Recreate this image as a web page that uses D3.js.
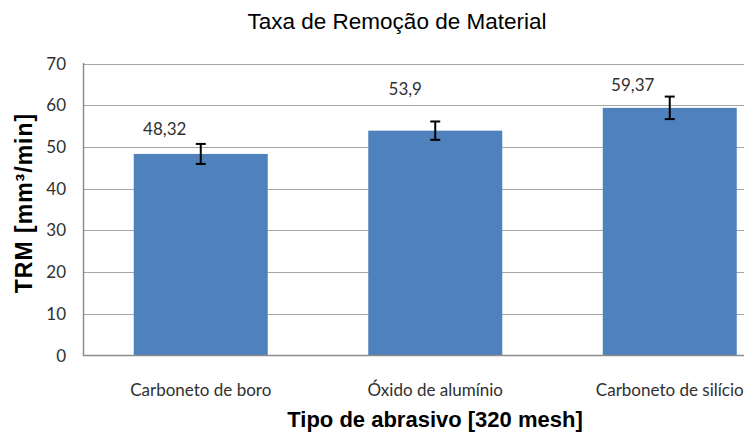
<!DOCTYPE html>
<html><head><meta charset="utf-8">
<script src="https://cdn.jsdelivr.net/npm/d3@7"></script>
<style>body{margin:0;background:#fff}svg{display:block}</style>
</head><body>
<svg id="c" width="744" height="443"></svg>
<script>
const categories = ["Carboneto de boro", "Óxido de alumínio", "Carboneto de silício"];
const values = [48.32, 53.9, 59.37];
const errors = [2.4, 2.2, 2.7];
const valueLabels = ["48,32", "53,9", "59,37"];
const yTicks = [0, 10, 20, 30, 40, 50, 60, 70];

// manual label placement (Excel-style), offsets from bar centre / bar top
const labelDx = [-36, -30, -37];
const labelDy = [-19, -36, -17];

const svg = d3.select("#c");
const x = d3.scaleBand().domain(categories).range([83.5, 787]).paddingInner(0.4286).paddingOuter(0.2143);
const y = d3.scaleLinear().domain([0, 70]).range([355.5, 63.5]);

// gridlines
svg.append("g").selectAll("line").data(yTicks.filter(d => d > 0)).join("line")
  .attr("x1", 83.5).attr("x2", 787)
  .attr("y1", d => Math.round(y(d)) + 0.5).attr("y2", d => Math.round(y(d)) + 0.5)
  .attr("stroke", "#a6a6a6").attr("stroke-width", 1);

// bars
svg.append("g").selectAll("rect").data(values).join("rect")
  .attr("x", (d, i) => x(categories[i]))
  .attr("width", x.bandwidth())
  .attr("y", d => y(d))
  .attr("height", d => y(0) - y(d))
  .attr("fill", "#4f81bd");

// axes lines
svg.append("line").attr("x1", 83.5).attr("x2", 83.5).attr("y1", 63).attr("y2", 356)
  .attr("stroke", "#8c8c8c").attr("stroke-width", 1.5);
svg.append("line").attr("x1", 83).attr("x2", 787).attr("y1", 355.5).attr("y2", 355.5)
  .attr("stroke", "#8c8c8c").attr("stroke-width", 1.5);

// y tick labels
svg.append("g").selectAll("text").data(yTicks).join("text")
  .attr("x", 66).attr("y", d => y(d) + 6)
  .attr("text-anchor", "end")
  .attr("font-family", "Lato").attr("font-size", 17).attr("fill", "#303030")
  .text(d => d);

// x category labels
svg.append("g").selectAll("text").data(categories).join("text")
  .attr("x", d => x(d) + x.bandwidth() / 2).attr("y", 396)
  .attr("text-anchor", "middle")
  .attr("font-family", "Lato").attr("font-size", 17).attr("fill", "#303030")
  .text(d => d);

// error bars
const eb = svg.append("g").attr("stroke", "#000").attr("stroke-width", 2);
values.forEach((v, i) => {
  const cx = x(categories[i]) + x.bandwidth() / 2;
  eb.append("line").attr("x1", cx).attr("x2", cx).attr("y1", y(v + errors[i])).attr("y2", y(v - errors[i]));
  eb.append("line").attr("x1", cx - 5).attr("x2", cx + 5).attr("y1", y(v + errors[i])).attr("y2", y(v + errors[i]));
  eb.append("line").attr("x1", cx - 5).attr("x2", cx + 5).attr("y1", y(v - errors[i])).attr("y2", y(v - errors[i]));
});

// value labels
svg.append("g").selectAll("text").data(values).join("text")
  .attr("x", (d, i) => x(categories[i]) + x.bandwidth() / 2 + labelDx[i])
  .attr("y", (d, i) => y(d) + labelDy[i])
  .attr("text-anchor", "middle")
  .attr("font-family", "Lato").attr("font-size", 17).attr("fill", "#303030")
  .text((d, i) => valueLabels[i]);

// title
svg.append("text").attr("x", 397).attr("y", 29).attr("text-anchor", "middle")
  .attr("font-family", "Liberation Sans").attr("font-size", 22.5).attr("fill", "#000")
  .text("Taxa de Remoção de Material");

// x axis title
svg.append("text").attr("x", 435).attr("y", 427).attr("text-anchor", "middle")
  .attr("font-family", "Liberation Sans").attr("font-weight", "bold").attr("font-size", 22).attr("fill", "#000")
  .text("Tipo de abrasivo [320 mesh]");

// y axis title
svg.append("text").attr("transform", "translate(32,203) rotate(-90)").attr("text-anchor", "middle")
  .attr("font-family", "Liberation Sans").attr("font-weight", "bold").attr("font-size", 23).attr("fill", "#000")
  .attr("letter-spacing", 1)
  .text("TRM [mm³/min]");
</script>
</body></html>
